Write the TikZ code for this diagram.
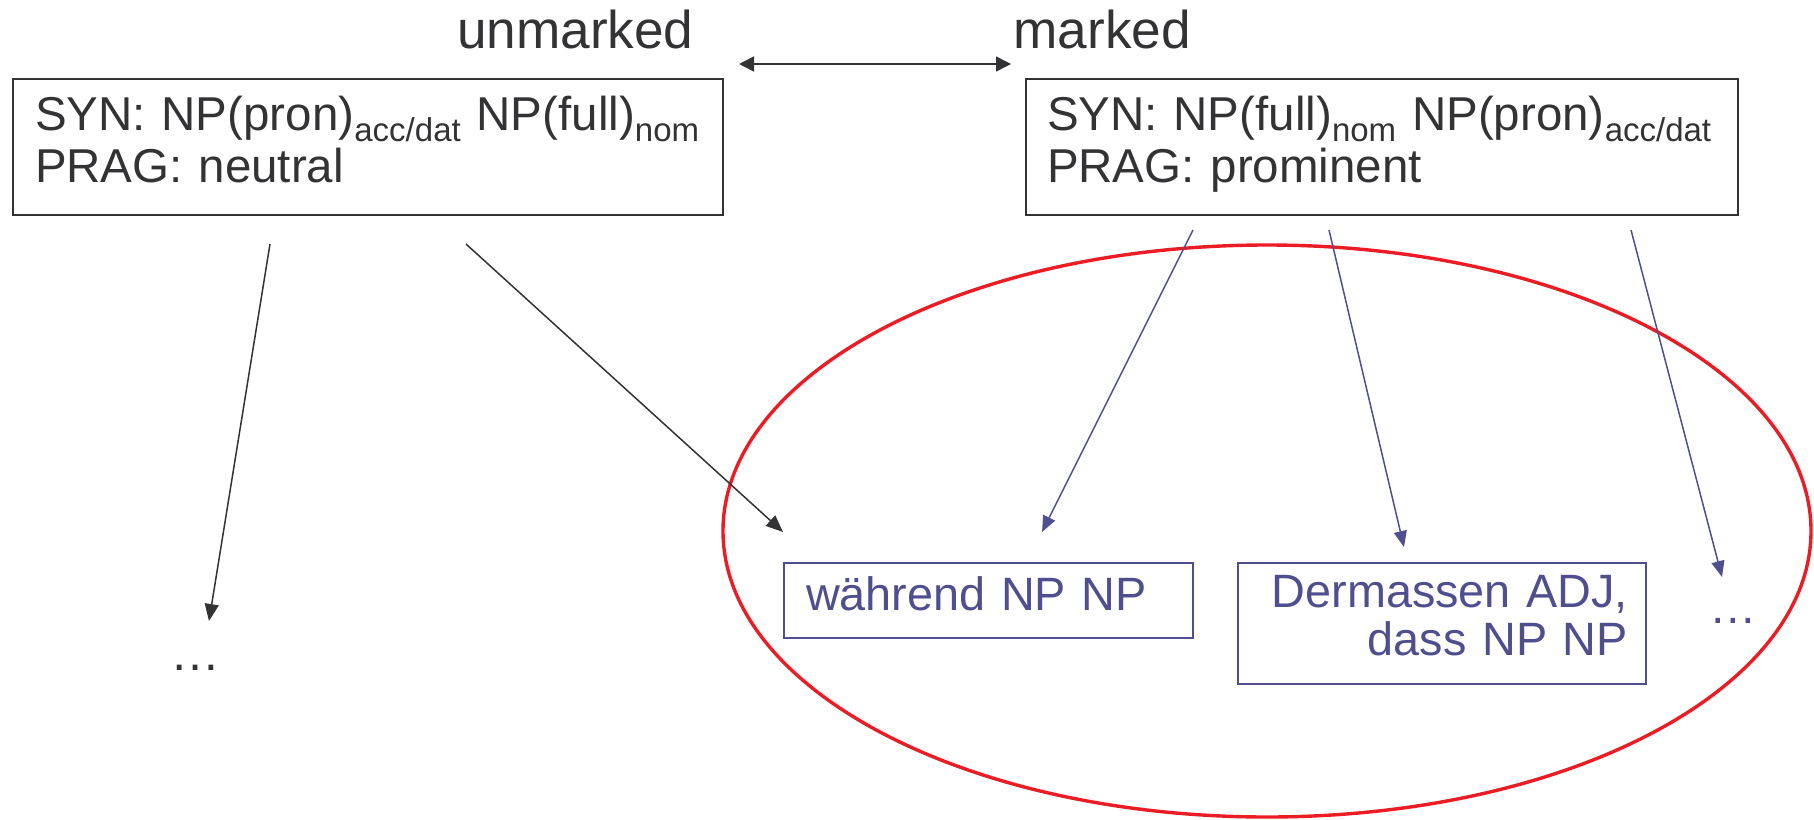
\documentclass[tikz,border=0pt]{standalone}
\usepackage{fontspec}
\setmainfont{Liberation Sans}
\usetikzlibrary{arrows.meta}
\definecolor{inkgray}{RGB}{51,51,53}
\definecolor{slateblue}{RGB}{79,79,143}
\definecolor{markred}{RGB}{236,28,36}
\newcommand\lowtag[1]{\raisebox{-5.5pt}{\fontsize{16.5}{17}\selectfont #1}}
\tikzset{
	framebox/.style={draw=inkgray, line width=0.9pt, text=inkgray, align=left, inner ysep=0pt, font=\fontsize{23.75}{26}\selectfont},
	bluebox/.style={draw=slateblue, line width=0.9pt, text=slateblue, inner ysep=0pt, font=\fontsize{23.4}{24}\selectfont},
	blackarrow/.style={draw=inkgray, line width=0.75pt, -{Triangle[length=8.5pt,width=7pt]}},
	bluearrow/.style={draw=slateblue, line width=0.75pt, -{Triangle[length=8pt,width=6.5pt]}}
}

\begin{document}
\begin{tikzpicture}[x=0.5pt, y=-0.5pt]
			%%%%% START %%%%%
			\useasboundingbox (0, 0) rectangle (1814, 819);
			
			\coordinate (group) at (1267, 531);
			\draw[markred, line width=1.7pt] (group) ellipse [x radius=272pt, y radius=143pt];
			
			\node[anchor=base east, inner sep=0pt, text=inkgray, font=\fontsize{26.6}{26}\selectfont] (unmarked) at (694, 48) {unmarked};
			\node[anchor=base west, inner sep=0pt, text=inkgray, font=\fontsize{26.6}{26}\selectfont] (marked) at (1013, 48) {marked};
			
			\node[framebox, minimum width=355pt, minimum height=68pt, text width=333pt, inner xsep=11pt] (neutralbox) at (368, 147)
				{SYN: NP(pron)\lowtag{acc/dat} NP(full)\lowtag{nom}\\PRAG: neutral\rule[-7.5pt]{0pt}{7.5pt}};
			\node[framebox, minimum width=356pt, minimum height=68pt, text width=335pt, inner xsep=10.5pt] (prominentbox) at (1382, 147)
				{SYN: NP(full)\lowtag{nom} NP(pron)\lowtag{acc/dat}\\PRAG: prominent\rule[-7.5pt]{0pt}{7.5pt}};
			
			\node[bluebox, align=left, minimum width=204.5pt, minimum height=37.5pt, text width=182.5pt, inner xsep=11pt, text height=17.5pt, text depth=8pt] (waehrend) at (988.5, 600.5) {während NP NP};
			\node[bluebox, align=right, minimum width=204pt, minimum height=60.5pt, text width=186pt, inner xsep=9pt] (dermassen) at (1442, 623.5)
				{Dermassen ADJ,\\dass NP NP\rule[-8pt]{0pt}{8pt}};
			
			\node[anchor=base, inner sep=0pt, text=inkgray, font=\fontsize{25}{26}\selectfont] (moreleft) at (195, 670) {…};
			\node[anchor=base, inner sep=0pt, text=slateblue, font=\fontsize{23.75}{24}\selectfont] (moreright) at (1733, 623) {…};
			
			% free ends of the arrows
			\coordinate (swapl) at (739, 64);
			\coordinate (swapr) at (1011, 64);
			\coordinate (fromneutrala) at (270, 244);
			\coordinate (toleft) at (209, 621);
			\coordinate (fromneutralb) at (466, 244);
			\coordinate (towaehrenda) at (783, 532);
			\coordinate (fromprominenta) at (1193, 230);
			\coordinate (towaehrendb) at (1042, 532);
			\coordinate (fromprominentb) at (1329, 230);
			\coordinate (todermassen) at (1404, 547);
			\coordinate (fromprominentc) at (1631, 230);
			\coordinate (toright) at (1722, 577);
			
			\draw[inkgray, line width=0.75pt, {Triangle[length=7.5pt,width=7.5pt]}-{Triangle[length=7.5pt,width=7.5pt]}] (swapl) -- (swapr);
			
			\draw[blackarrow] (fromneutrala) -- (toleft);
			\draw[blackarrow] (fromneutralb) -- (towaehrenda);
			
			\draw[bluearrow] (fromprominenta) -- (towaehrendb);
			\draw[bluearrow] (fromprominentb) -- (todermassen);
			\draw[bluearrow] (fromprominentc) -- (toright);
			
			%%%%% END %%%%%
\end{tikzpicture}
\end{document}
